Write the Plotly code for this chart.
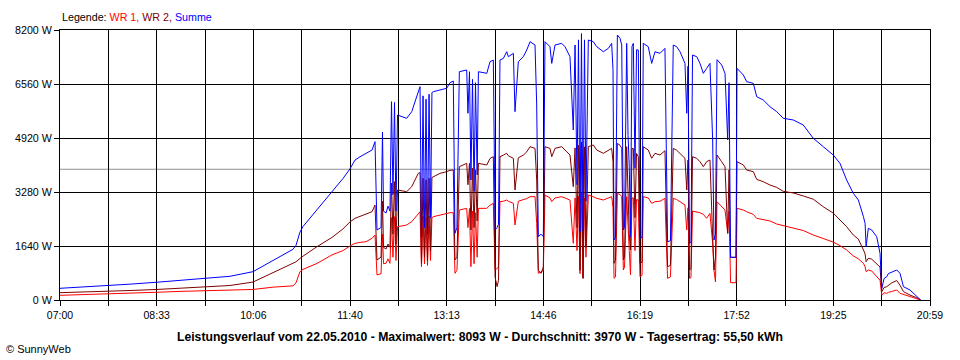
import plotly.graph_objects as go

# Time in minutes after 07:00
minutes = [0, 23.1, 46.3, 69.4, 93.5, 116.7, 140.8, 163.9, 186.1, 205.4, 218.9, 224.7, 227.6, 231.4, 234.3,
           247.8, 262.3, 272.9, 279.6, 284.5, 289.3, 295.1, 300.9, 303.8, 305.7, 309.6, 311.0, 312.0, 314.4,
           316.3, 318.2, 319.7, 321.1, 322.6, 324.0, 325.5, 329.8, 334.3, 339.2, 345.5, 347.2, 348.6, 350.1,
           351.5, 353.0, 354.4, 355.9, 357.3, 358.7, 360.0, 366.5, 372.9, 376.1, 379.3, 380.9, 382.8, 385.1,
           392.2, 393.4, 394.9, 396.3, 397.8, 399.3, 400.7, 402.3, 403.5, 411.6, 414.7, 417.9, 419.6, 421.5,
           422.9, 424.3, 427.6, 430.8, 432.4, 437.2, 438.8, 442.0, 446.8, 450.1, 453.3, 458.1, 459.7, 461.3,
           463.9, 466.1, 467.7, 472.5, 474.2, 477.4, 483.8, 487.0, 491.8, 495.0, 496.7, 498.6, 500.0, 501.5,
           502.9, 504.4, 505.8, 507.2, 509.5, 514.3, 517.6, 524.0, 528.8, 532.0, 533.3, 534.3, 535.7, 537.5,
           540.1, 541.7, 543.3, 544.4, 546.5, 547.8, 549.0, 550.2, 551.6, 552.9, 554.5, 556.0, 557.7, 559.3,
           561.3, 562.5, 567.3, 570.6, 573.8, 578.6, 583.4, 585.9, 588.7, 591.4, 594.7, 597.9, 602.7, 604.4,
           605.6, 607.1, 608.5, 610.0, 614.0, 617.2, 620.4, 623.6, 626.8, 629.4, 630.7, 632.1, 633.6, 638.1,
           641.3, 643.9, 645.2, 646.7, 651.9, 652.9, 659.0, 662.2, 668.6, 671.9, 678.2, 684.7, 691.2, 697.5,
           707.2, 716.8, 726.5, 736.1, 745.7, 752.2, 758.6, 765.0, 769.9, 774.8, 776.4, 777.4, 779.5, 782.8,
           787.6, 790.8, 792.5, 794.7, 797.3, 798.8, 802.1, 806.9, 810.1, 813.4, 819.7, 826.2, 830.0]

wr1 = [142, 160, 180, 205, 235, 262, 290, 300, 320, 390, 415, 430, 520, 860, 930,
       1110, 1370, 1500, 1640, 1720, 1750, 1771, 1873, 1974, 760, 800, 2000, 1100, 1114,
       1250, 1114, 2500, 1300, 2530, 1200, 2227, 2250, 2278, 2379, 2632, 2680, 1012, 2550,
       1100, 2500, 1050, 2550, 1200, 2500, 2530, 2581, 2632, 2650, 2652, 810, 900, 2733,
       2784, 2200, 2780, 1012, 2700, 1100, 2650, 1300, 2784, 2784, 2880, 2936, 911, 950,
       1000, 2986, 3000, 3037, 3000, 2936, 2278, 3000, 3037, 3080, 3138, 3138, 2328, 810,
       850, 900, 3189, 3100, 2986, 3100, 3138, 3100, 3037, 1721, 3100, 1500, 3150, 800,
       3250, 658, 3100, 1300, 3189, 3138, 3088, 3037, 3100, 3138, 2800, 658, 700, 3240,
       3200, 3138, 911, 1000, 3138, 2000, 1500, 759, 3100, 3100, 1500, 3050, 3037, 709,
       750, 3138, 3100, 2936, 2986, 3000, 3088, 658, 700, 3088, 3050, 2986, 2885, 2126,
       2800, 658, 680, 2700, 2682, 2650, 2600, 2480, 2632, 1721, 911, 550, 2986, 2850,
       2733, 2025, 2700, 525, 525, 2784, 2733, 2682, 2600, 2480, 2450, 2400, 2308, 2260,
       2200, 2110, 1974, 1860, 1760, 1650, 1519, 1340, 1250, 1114, 1012, 860, 911, 880,
       700, 600, 152, 220, 203, 230, 260, 304, 203, 170, 101, 50, 0]

wr2 = [222, 240, 262, 290, 320, 355, 400, 440, 545, 820, 1020, 1110, 1160, 1260, 1330,
       1620, 1900, 2160, 2370, 2480, 2540, 2600, 2682, 2885, 1215, 1300, 3000, 1600, 1550,
       1700, 1600, 3550, 2000, 3593, 1700, 3341, 3320, 3290, 3441, 3847, 3870, 1114, 3700,
       1300, 3650, 1200, 3700, 1500, 3720, 3745, 3847, 3897, 3940, 3948, 1215, 1300, 4048,
       4151, 3500, 4150, 2126, 4000, 2200, 3950, 2400, 4151, 4100, 4300, 4352, 700, 405,
       600, 4352, 4400, 4455, 4380, 4303, 3341, 4320, 4400, 4500, 4656, 4605, 3644, 900,
       810, 1000, 4656, 4605, 4352, 4605, 4656, 4555, 4404, 3441, 4620, 2200, 4700, 900,
       4800, 658, 4650, 1600, 4656, 4707, 4555, 4455, 4550, 4605, 4200, 1114, 1200, 4757,
       4700, 4605, 1215, 1300, 4656, 3000, 2000, 1519, 4600, 4600, 2500, 4450, 4352, 1114,
       1150, 4656, 4555, 4303, 4455, 4404, 4534, 1012, 1050, 4605, 4550, 4450, 4303, 3341,
       4250, 911, 950, 4352, 4303, 4200, 4048, 4201, 4252, 1923, 911, 1300, 4404, 4200,
       4048, 2025, 3950, 1296, 1296, 4201, 4100, 3948, 3897, 3664, 3593, 3492, 3420, 3300,
       3250, 3160, 3060, 2830, 2640, 2430, 2227, 1974, 1850, 1519, 1400, 1163, 1266, 1240,
       1080, 1000, 253, 380, 405, 450, 520, 590, 450, 253, 150, 70, 0]

summe = [355, 395, 435, 485, 540, 600, 670, 720, 860, 1200, 1420, 1540, 1660, 2060, 2230,
         2740, 3260, 3690, 3980, 4250, 4350, 4455, 4555, 4808, 2126, 2200, 5100, 2700, 2640,
         2850, 2700, 6022, 3200, 6000, 2700, 5618, 5560, 5517, 5720, 6378, 6479, 1923, 6200,
         2200, 6100, 2000, 6250, 2500, 6300, 6327, 6378, 6429, 6600, 6650, 2025, 2200, 6934,
         6985, 5670, 6934, 3644, 6700, 3300, 6600, 3800, 6934, 6884, 7237, 7288, 2126, 2200,
         2300, 7288, 7338, 7541, 7389, 7490, 5720, 7237, 7389, 7592, 7845, 7744, 5922, 1923,
         2000, 1923, 7845, 7693, 7186, 7744, 7795, 7693, 7389, 5163, 7744, 3500, 7900, 2065,
         8093, 2100, 7900, 3000, 7896, 7845, 7693, 7541, 7642, 7795, 7000, 1822, 1900, 8048,
         7946, 7744, 2126, 2200, 7795, 5000, 4048, 1922, 7700, 7795, 4000, 7600, 7592, 1880,
         1900, 7795, 7693, 7186, 7541, 7490, 7642, 1771, 1800, 7744, 7693, 7541, 7186, 5670,
         7100, 1720, 1750, 7440, 7389, 7186, 6884, 7035, 7186, 4859, 1822, 2000, 7300, 7136,
         6884, 4859, 6600, 1296, 1296, 7035, 6833, 6631, 6580, 6175, 6074, 5871, 5720, 5518,
         5467, 5315, 4910, 4656, 4404, 4151, 3644, 3240, 3037, 2530, 2328, 1620, 2177, 2126,
         1923, 1418, 350, 650, 709, 800, 850, 911, 810, 405, 304, 101, 0]

x_labels = ["07:00", "08:33", "10:06", "11:40", "13:13", "14:46", "16:19", "17:52", "19:25", "20:59"]
span_minutes = 839          # 07:00 .. 20:59
x_divisions = 18
y_ticks = [0, 1640, 3280, 4920, 6560, 8200]

datum = "22.05.2010"
max_w = 8093
avg_w = 3970
ertrag = "55,50"

FONT = "Liberation Sans, Arial, sans-serif"

tickvals = [i * span_minutes / x_divisions for i in range(x_divisions + 1)]
ticktext = []
for i in range(x_divisions + 1):
    ticktext.append(x_labels[i // 2] if i % 2 == 0 else "")

fig = go.Figure()
fig.add_hline(y=avg_w, line=dict(color="#909090", width=1), layer="below")
fig.add_trace(go.Scatter(x=minutes, y=wr1, mode="lines", name="WR 1",
                         line=dict(color="#FF0000", width=1)))
fig.add_trace(go.Scatter(x=minutes, y=wr2, mode="lines", name="WR 2",
                         line=dict(color="#800000", width=1)))
fig.add_trace(go.Scatter(x=minutes, y=summe, mode="lines", name="Summe",
                         line=dict(color="#0000FF", width=1)))

fig.update_layout(
    width=960, height=360,
    margin=dict(l=60, r=30, t=30, b=60),
    paper_bgcolor="white", plot_bgcolor="white",
    showlegend=False, hovermode=False,
    font=dict(family=FONT, size=11, color="black"),
)
fig.update_xaxes(
    range=[0, span_minutes], tickmode="array", tickvals=tickvals, ticktext=ticktext,
    showgrid=True, gridcolor="black", gridwidth=1,
    showline=True, linecolor="black", linewidth=1, mirror=True,
    ticks="outside", ticklen=5, tickcolor="black", tickwidth=1,
    zeroline=False, tickfont=dict(size=10.5),
)
fig.update_yaxes(
    range=[0, 8200], tickmode="array", tickvals=y_ticks,
    ticktext=[f"{v} W" for v in y_ticks],
    showgrid=True, gridcolor="black", gridwidth=1,
    showline=True, linecolor="black", linewidth=1, mirror=True,
    ticks="outside", ticklen=5, tickcolor="black", tickwidth=1,
    zeroline=False, tickfont=dict(size=10.7),
)

legend_text = ("Legende: <span style='color:#FF0000'>WR 1,</span> "
               "<span style='color:#800000'>WR 2,</span> "
               "<span style='color:#0000FF'>Summe</span>")
fig.add_annotation(text=legend_text, xref="paper", yref="paper", x=0, y=1.049,
                   xanchor="left", yanchor="middle", showarrow=False,
                   font=dict(size=10.7, color="black"))

title_text = (f"<b>Leistungsverlauf vom {datum} - Maximalwert: {max_w} W - "
              f"Durchschnitt: {avg_w} W - Tagesertrag: {ertrag} kWh</b>")
fig.add_annotation(text=title_text, xref="paper", yref="paper", x=0.4828, y=-0.136,
                   xanchor="center", yanchor="middle", showarrow=False,
                   font=dict(size=12.2, color="black"))

fig.add_annotation(text="© SunnyWeb", xref="paper", yref="paper", x=-0.0644, y=-0.183,
                   xanchor="left", yanchor="middle", showarrow=False,
                   font=dict(size=11, color="black"))

fig.write_html("out.html", config={"displayModeBar": False},
               post_script="document.body.style.margin='0px';document.body.style.overflow='hidden';")
